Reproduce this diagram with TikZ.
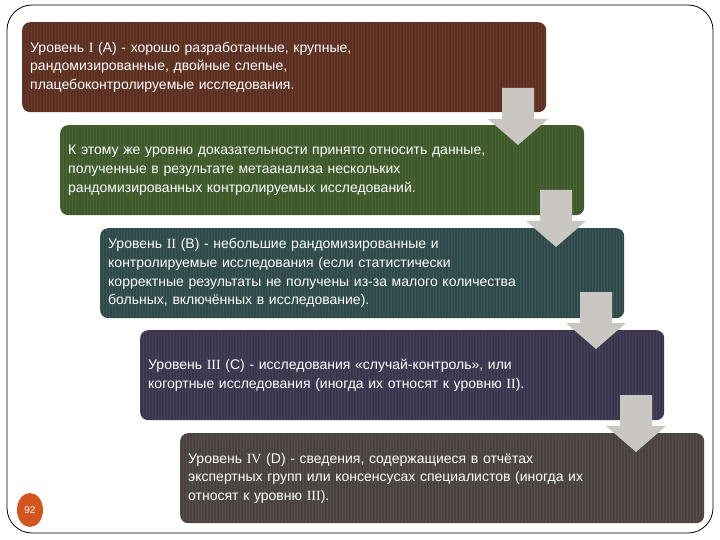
\documentclass[tikz,border=0pt]{standalone}
\usepackage{fontspec}
\setmainfont{Liberation Sans}
\newfontfamily\romfont{Liberation Serif}
\newcommand{\rnum}[1]{{\romfont #1}}
\usetikzlibrary{shapes.geometric}

\definecolor{lvlbrown}{HTML}{5C2F20}
\definecolor{lvlgreen}{HTML}{3E5A2B}
\definecolor{lvlteal}{HTML}{2F4A4A}
\definecolor{lvlpurple}{HTML}{3B354E}
\definecolor{lvlgray}{HTML}{4A423F}
\definecolor{arrgray}{HTML}{CAC6C1}
\definecolor{pagered}{HTML}{D4541E}

\tikzset{
  lvl/.style={draw=none, rounded corners=8pt, minimum width=524pt, minimum height=90pt,
    text width=508pt, inner xsep=8pt, align=left, anchor=north west, text=white,
    font=\fontsize{14}{18.7}\selectfont,
    path picture={\foreach \i in {0,3,...,528}
      \draw[white, opacity=0.06, line width=0.8pt]
        ([xshift=\i pt]path picture bounding box.north west)
        -- ([xshift=\i pt]path picture bounding box.south west);}},
  downarr/.style={fill=arrgray, draw=none},
}

\begin{document}
\begin{tikzpicture}[x=1pt,y=-1pt]
\useasboundingbox (0,0) rectangle (720,540);
%outer frame of the slide
\draw[rounded corners=25pt, line width=0.8pt] (7,5) rectangle (713,533);

\node[lvl, fill=lvlbrown] (lvla) at (22,22) {Уровень \rnum{I} (А) - хорошо разработанные, крупные,\\
рандомизированные, двойные слепые,\\
плацебоконтролируемые исследования.};
\node[lvl, fill=lvlgreen] (lvlmeta) at (60,125) {К этому же уровню доказательности принято относить данные,\\
полученные в результате метаанализа нескольких\\
рандомизированных контролируемых исследований.};
\node[lvl, fill=lvlteal] (lvlb) at (100,228) {Уровень \rnum{II} (В) - небольшие рандомизированные и\\
контролируемые исследования (если статистически\\
корректные результаты не получены из-за малого количества\\
больных, включённых в исследование).};
\node[lvl, fill=lvlpurple] (lvlc) at (140,330) {Уровень \rnum{III} (С) - исследования «случай-контроль», или\\
когортные исследования (иногда их относят к уровню \rnum{II}).};
\node[lvl, fill=lvlgray, minimum width=522pt] (lvld) at (180,433) {Уровень \rnum{IV} (D) - сведения, содержащиеся в отчётах\\
экспертных групп или консенсусах специалистов (иногда их\\
относят к уровню \rnum{III}).};

%arrows between the levels
\foreach \x/\y in {518/88, 556/190, 596/292, 636/395}
  \fill[downarr] (\x-16,\y) -- (\x+16,\y) -- (\x+16,\y+31) -- (\x+30,\y+31) -- (\x,\y+57)
    -- (\x-30,\y+31) -- (\x-16,\y+31) -- cycle;

\node[ellipse, fill=pagered, minimum width=26pt, minimum height=34pt, inner sep=0pt,
  text=white, font=\fontsize{10}{10}\selectfont] (pagenum) at (30,510) {92};
\end{tikzpicture}
\end{document}
